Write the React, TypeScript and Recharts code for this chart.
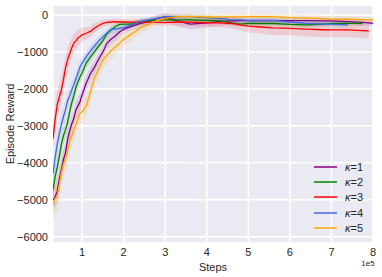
import { ComposedChart, Line, Area, XAxis, YAxis, CartesianGrid } from 'recharts'

// steps in units of 1e5
const steps = [0.3, 0.35, 0.4, 0.45, 0.5, 0.55, 0.6, 0.65, 0.7, 0.75, 0.8, 0.85, 0.9, 0.95, 1.0, 1.1, 1.2, 1.3, 1.4, 1.5, 1.6, 1.7, 1.8, 1.9, 2.0, 2.2, 2.4, 2.6, 2.8, 3.0, 3.3, 3.6, 4.0, 4.3, 4.6, 4.8, 5.0, 5.3, 5.6, 6.0, 6.4, 6.8, 7.0, 7.4, 7.75, 7.9, 8.0]

const k1 = [-5000, -4920, -4780, -4460, -4190, -3920, -3730, -3380, -3140, -2950, -2810, -2570, -2460, -2350, -2160, -1840, -1590, -1410, -1190, -1000, -760, -650, -570, -460, -390, -300, -225, -180, -90, -55, -160, -245, -215, -180, -160, -155, -155, -155, -155, -155, -155, -160, -160, -180, -200, -215, -225]
const k2 = [-4730, -4380, -4140, -3840, -3510, -3270, -3110, -2920, -2620, -2380, -2190, -1970, -1810, -1680, -1570, -1300, -1140, -990, -840, -700, -510, -405, -310, -255, -245, -245, -190, -155, -145, -135, -135, -135, -150, -155, -215, -250, -230, -225, -230, -255, -270, -245, -230, -225, -225, null, null]
const k3 = [-3350, -2840, -2430, -2220, -2030, -1760, -1430, -1220, -1050, -890, -760, -700, -620, -580, -540, -495, -445, -350, -285, -230, -200, -190, -180, -190, -190, -195, -195, -195, -200, -205, -190, -195, -210, -215, -230, -270, -300, -325, -350, -365, -385, -400, -405, -405, -425, -430, null]
const k4 = [-4300, -3870, -3510, -3240, -2970, -2760, -2570, -2320, -2190, -2030, -1890, -1730, -1570, -1410, -1300, -1130, -970, -840, -700, -595, -490, -390, -380, -360, -340, -270, -180, -135, -90, -45, -45, -45, -70, -90, -135, -135, -150, -145, -145, -190, -225, -245, -250, -270, null, null, null]
const k5 = [-5130, -4970, -4920, -4600, -4270, -4030, -3920, -3700, -3430, -3270, -3110, -2970, -2810, -2650, -2620, -2460, -2080, -1700, -1460, -1220, -1080, -970, -860, -770, -660, -510, -350, -255, -150, -90, -45, -40, -55, -60, -55, -50, -45, -45, -45, -70, -80, -100, -110, -115, -125, -135, -135]

// half width of the shaded bands
const k1Spread = [300, 300, 300, 300, 280, 280, 260, 260, 250, 250, 240, 240, 230, 230, 220, 200, 200, 180, 170, 160, 150, 140, 130, 120, 110, 100, 100, 100, 100, 110, 150, 150, 130, 110, 100, 90, 80, 80, 80, 80, 80, 80, 80, 80, 80, 80, 80]
const k2Spread = [300, 290, 280, 270, 260, 250, 240, 230, 220, 210, 200, 190, 180, 170, 160, 150, 140, 130, 120, 110, 100, 100, 100, 90, 90, 80, 80, 70, 70, 70, 70, 70, 70, 70, 70, 70, 70, 70, 70, 70, 70, 70, 70, 70, 70, 70, 70]
const k3Spread = [400, 400, 380, 360, 350, 340, 330, 320, 300, 280, 260, 240, 220, 200, 190, 170, 150, 130, 110, 100, 90, 80, 80, 80, 80, 80, 80, 80, 80, 90, 90, 100, 100, 110, 130, 150, 170, 180, 190, 190, 200, 200, 200, 200, 200, 200, 200]
const k4Spread = [350, 330, 300, 280, 260, 250, 240, 230, 220, 210, 200, 190, 180, 170, 160, 150, 140, 130, 120, 110, 100, 100, 100, 90, 90, 80, 80, 70, 70, 70, 70, 70, 70, 70, 70, 70, 70, 70, 70, 70, 70, 70, 70, 70, 70, 70, 70]
const k5Spread = [450, 450, 420, 400, 380, 360, 340, 330, 320, 310, 300, 300, 300, 300, 300, 300, 280, 260, 250, 240, 230, 220, 210, 200, 190, 170, 150, 130, 110, 100, 90, 80, 80, 80, 80, 80, 80, 80, 80, 80, 80, 80, 80, 80, 80, 80, 80]

const xTicks = [1, 2, 3, 4, 5, 6, 7, 8]
const yTicks = [-6000, -5000, -4000, -3000, -2000, -1000, 0]

const series = [
  { key: 'k1', label: '1', color: '#800080', values: k1, spread: k1Spread },
  { key: 'k2', label: '2', color: '#008000', values: k2, spread: k2Spread },
  { key: 'k3', label: '3', color: '#ff0000', values: k3, spread: k3Spread },
  { key: 'k4', label: '4', color: '#4169e1', values: k4, spread: k4Spread },
  { key: 'k5', label: '5', color: '#ffa500', values: k5, spread: k5Spread },
]

const data = steps.map((s, i) => {
  const row: any = { step: s * 1e5 }
  series.forEach(se => {
    const v = se.values[i]
    row[se.key] = v
    row[se.key + 'Band'] = v == null ? null : [v - se.spread[i], v + se.spread[i]]
  })
  return row
})

const font = '"Liberation Sans", Arial, sans-serif'
const textColor = '#262626'

const fmtY = (v: number) => (v < 0 ? '\u2212' + Math.abs(v) : String(v))

export default function App() {
  return (
    <div style={{ position: 'absolute', left: 0, top: 0, width: 382, height: 277, background: '#fff', fontFamily: font }}>
      <ComposedChart width={382} height={277} data={data} margin={{ top: 5, right: 9, bottom: 0, left: 0 }}>
        <CartesianGrid fill="#eaeaf2" stroke="#fff" strokeWidth={1.5} />
        <XAxis
          dataKey="step"
          type="number"
          domain={[30000, 800000]}
          ticks={xTicks.map(t => t * 1e5)}
          tickFormatter={v => String(v / 1e5)}
          allowDataOverflow
          axisLine={false}
          tickLine={false}
          tickSize={3}
          tickMargin={2}
          height={34}
          tick={{ fontSize: 11, fill: textColor, fontFamily: font }}
        />
        <YAxis
          type="number"
          domain={[-6170, 270]}
          ticks={yTicks}
          tickFormatter={fmtY}
          allowDataOverflow
          axisLine={false}
          tickLine={false}
          tickSize={3}
          tickMargin={2}
          width={53}
          tick={{ fontSize: 11, fill: textColor, fontFamily: font }}
        />
        {series.map(se => (
          <Area
            key={se.key + 'Band'}
            dataKey={se.key + 'Band'}
            stroke="none"
            fill={se.color}
            fillOpacity={0.13}
            isAnimationActive={false}
            connectNulls={false}
          />
        ))}
        {series.map(se => (
          <Line
            key={se.key}
            dataKey={se.key}
            stroke={se.color}
            strokeWidth={1.3}
            dot={false}
            isAnimationActive={false}
            connectNulls={false}
          />
        ))}
      </ComposedChart>

      <div style={{ position: 'absolute', left: 0, top: 124, width: 20, height: 0 }}>
        <div style={{ position: 'absolute', left: 10, top: 0, transform: 'translate(-50%, -50%) rotate(-90deg)', whiteSpace: 'nowrap', fontSize: 11, color: textColor }}>
          Episode Reward
        </div>
      </div>
      <div style={{ position: 'absolute', left: 213, top: 267, transform: 'translate(-50%, -50%)', fontSize: 11, color: textColor }}>
        Steps
      </div>
      <div style={{ position: 'absolute', left: 368, top: 263, transform: 'translate(-50%, -50%)', fontSize: 8, color: textColor }}>
        1e5
      </div>

      <div style={{ position: 'absolute', left: 314, top: 159 }}>
        {series.map(se => (
          <div key={se.key} style={{ display: 'flex', alignItems: 'center', height: 15.3, fontSize: 11, color: textColor }}>
            <svg width={23} height={4} style={{ marginRight: 8 }}>
              <line x1={0} y1={2} x2={23} y2={2} stroke={se.color} strokeWidth={1.5} />
            </svg>
            <span><i>κ</i>={se.label}</span>
          </div>
        ))}
      </div>
    </div>
  )
}
